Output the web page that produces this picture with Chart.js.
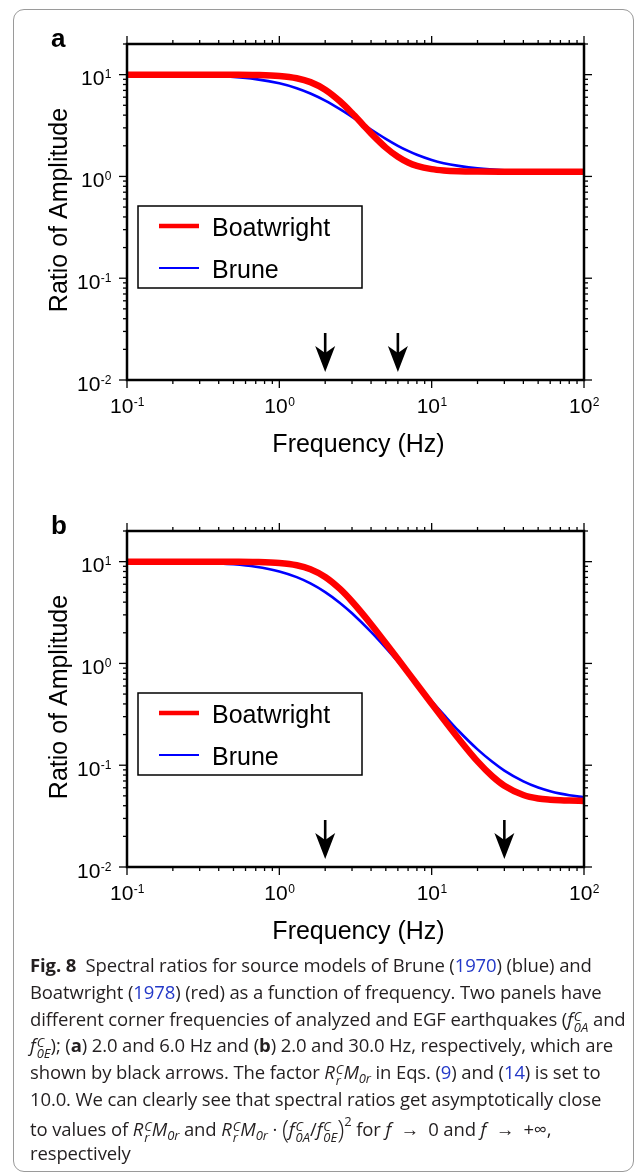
<!DOCTYPE html>
<html>
<head>
<meta charset="utf-8">
<script src="https://cdn.jsdelivr.net/npm/chart.js@4"></script>
<style>
  body { margin: 0; background: #fff; width: 637px; height: 1174px; position: relative; overflow: hidden; }
  #box { position: absolute; left: 13px; top: 9px; width: 619px; height: 1161px; border: 1px solid #9a9a9a; border-radius: 11px; }
  canvas { position: absolute; left: 0; }
  #chartA { top: 0; }
  #chartB { top: 487px; }
  #caption {
    position: absolute; left: 30px; top: 952px; white-space: nowrap;
    font-family: "Open Sans", sans-serif; font-size: 18.5px;
    letter-spacing: -0.12px; color: #231f20;
  }
  #caption .ln { height: 26.8px; line-height: 26.8px; }
  #caption a { color: #2338c8; text-decoration: none; }
  #caption b { font-weight: 700; }
  .ss { display: inline-block; vertical-align: -6px; font-size: 13px; line-height: 11px; margin-left: 1px; font-style: italic; letter-spacing: 0; }
  .ss span { display: block; }
  .sb { font-size: 13px; font-style: italic; position: relative; top: 4px; }
  .bigp { font-size: 26px; position: relative; top: 2px; font-weight: 300; }
  .sp2 { font-size: 13px; position: relative; top: -10px; }
</style>
</head>
<body>
<div id="box"></div>
<canvas id="chartA" width="637" height="470"></canvas>
<canvas id="chartB" width="637" height="470"></canvas>
<div id="caption">
<div class="ln"><b>Fig. 8</b>&nbsp; Spectral ratios for source models of Brune (<a>1970</a>) (blue) and</div>
<div class="ln">Boatwright (<a>1978</a>) (red) as a function of frequency. Two panels have</div>
<div class="ln">different corner frequencies of analyzed and EGF earthquakes (<i>f</i><span class="ss"><span>C</span><span>0A</span></span> and</div>
<div class="ln"><i>f</i><span class="ss"><span>C</span><span>0E</span></span>); (<b>a</b>) 2.0 and 6.0 Hz and (<b>b</b>) 2.0 and 30.0 Hz, respectively, which are</div>
<div class="ln">shown by black arrows. The factor <i>R</i><span class="ss"><span>C</span><span>r</span></span><i>M</i><span class="sb">0r</span> in Eqs. (<a>9</a>) and (<a>14</a>) is set to</div>
<div class="ln">10.0. We can clearly see that spectral ratios get asymptotically close</div>
<div class="ln">to values of <i>R</i><span class="ss"><span>C</span><span>r</span></span><i>M</i><span class="sb">0r</span> and <i>R</i><span class="ss"><span>C</span><span>r</span></span><i>M</i><span class="sb">0r</span> · <span class="bigp">(</span><i>f</i><span class="ss"><span>C</span><span>0A</span></span>/<i>f</i><span class="ss"><span>C</span><span>0E</span></span><span class="bigp">)</span><span class="sp2">2</span> for <i>f</i> &nbsp;→&nbsp; 0 and <i>f</i> &nbsp;→&nbsp; +∞,</div>
<div class="ln">respectively</div>
</div>
<script>
// Panel a: corner frequencies 2.0 and 6.0 Hz
const freqA = [0.1, 0.2, 0.3, 0.5, 0.7, 1, 1.3, 1.6, 2, 2.5, 3, 3.5, 4, 5, 6, 7, 8, 10, 12, 15, 20, 30, 50, 100];
const boatwrightA = [10.0, 10.0, 9.997, 9.98, 9.93, 9.71, 9.22, 8.44, 7.11, 5.47, 4.19, 3.28, 2.65, 1.92, 1.56, 1.37, 1.27, 1.18, 1.145, 1.125, 1.116, 1.112, 1.111, 1.111];
const bruneA = [9.98, 9.91, 9.80, 9.48, 9.03, 8.22, 7.36, 6.53, 5.56, 4.58, 3.85, 3.30, 2.89, 2.34, 2.0, 1.78, 1.63, 1.45, 1.35, 1.27, 1.2, 1.15, 1.125, 1.115];

// Panel b: corner frequencies 2.0 and 30.0 Hz
const freqB = [0.1, 0.2, 0.3, 0.5, 0.7, 1, 1.3, 1.6, 2, 2.5, 3, 4, 5, 6, 8, 10, 12, 15, 20, 25, 30, 40, 50, 60, 70, 80, 100];
const boatwrightB = [10.0, 10.0, 9.997, 9.98, 9.93, 9.70, 9.21, 8.42, 7.07, 5.39, 4.06, 2.43, 1.58, 1.105, 0.625, 0.402, 0.281, 0.183, 0.109, 0.0779, 0.0629, 0.051, 0.0471, 0.0458, 0.0452, 0.0449, 0.0446];
const bruneB = [9.975, 9.90, 9.78, 9.41, 8.91, 8.01, 7.04, 6.11, 5.02, 3.93, 3.11, 2.04, 1.42, 1.04, 0.63, 0.427, 0.314, 0.218, 0.143, 0.108, 0.0885, 0.0693, 0.0603, 0.0555, 0.0526, 0.0507, 0.0484];

// black arrows (corner frequencies)
const arrowsA = [2, 6];
const arrowsB = [2, 30];

const seriesNames = ["Boatwright", "Brune"];
const xTicks = [0.1, 1, 10, 100];
const xTickExp = ["-1", "0", "1", "2"];
const yTicks = [0.01, 0.1, 1, 10];
const yTickExp = ["-2", "-1", "0", "1"];

const FONT = "'Liberation Sans', Arial, sans-serif";

function minorTicks(majors, max) {
  const out = [];
  majors.forEach((d) => {
    for (let m = 2; m <= 9; m++) {
      if (m * d <= max) out.push(m * d);
    }
  });
  return out;
}

// "10" with a small exponent
function drawPow(ctx, exp, x, baseline, align) {
  ctx.font = "21px " + FONT;
  const wb = ctx.measureText("10").width;
  ctx.font = "12px " + FONT;
  const we = ctx.measureText(exp).width;
  const left = align === "center" ? x - (wb + we) / 2 : x - wb - we;
  ctx.textAlign = "left";
  ctx.textBaseline = "alphabetic";
  ctx.font = "21px " + FONT;
  ctx.fillText("10", left, baseline);
  ctx.font = "12px " + FONT;
  ctx.fillText(exp, left + wb + 0.5, baseline - 7);
}

// frame, ticks, labels, legend and arrows, GMT style
const logFrame = {
  id: "logFrame",
  afterDraw(chart, args, opts) {
    const { ctx, chartArea: a } = chart;
    const xs = chart.scales.x;
    const ys = chart.scales.y;
    ctx.save();
    ctx.fillStyle = "#000";
    ctx.strokeStyle = "#000";

    // ticks on all four sides, pointing out
    ctx.lineWidth = 1.3;
    const tick = (x1, y1, x2, y2) => {
      ctx.beginPath();
      ctx.moveTo(x1, y1);
      ctx.lineTo(x2, y2);
      ctx.stroke();
    };
    xTicks.forEach((v) => {
      const px = xs.getPixelForValue(v);
      tick(px, a.bottom, px, a.bottom + 8);
      tick(px, a.top, px, a.top - 8);
    });
    minorTicks(xTicks.slice(0, -1), xs.max).forEach((v) => {
      const px = xs.getPixelForValue(v);
      tick(px, a.bottom, px, a.bottom + 4);
      tick(px, a.top, px, a.top - 4);
    });
    yTicks.forEach((v) => {
      const py = ys.getPixelForValue(v);
      tick(a.left, py, a.left - 8, py);
      tick(a.right, py, a.right + 8, py);
    });
    minorTicks(yTicks, ys.max).forEach((v) => {
      const py = ys.getPixelForValue(v);
      tick(a.left, py, a.left - 4, py);
      tick(a.right, py, a.right + 4, py);
    });

    ctx.lineWidth = 2.5;
    ctx.strokeRect(a.left, a.top, a.right - a.left, a.bottom - a.top);

    // tick labels
    xTicks.forEach((v, i) => {
      drawPow(ctx, xTickExp[i], xs.getPixelForValue(v), a.bottom + 33, "center");
    });
    yTicks.forEach((v, i) => {
      drawPow(ctx, yTickExp[i], a.left - 16, ys.getPixelForValue(v) + 10.5, "right");
    });

    // axis titles
    ctx.font = "25px " + FONT;
    ctx.textAlign = "center";
    ctx.fillText("Frequency (Hz)", (a.left + a.right) / 2 + 3, a.bottom + 72);
    ctx.save();
    ctx.translate(67, (a.top + a.bottom) / 2 - 2);
    ctx.rotate(-Math.PI / 2);
    ctx.fillText("Ratio of Amplitude", 0, 0);
    ctx.restore();

    // panel letter
    ctx.font = "bold 26px " + FONT;
    ctx.textAlign = "left";
    ctx.fillText(opts.letter, 51, 47);

    // legend
    const lx = a.left + 11, ly = a.top + 162;
    ctx.lineWidth = 1.5;
    ctx.strokeRect(lx, ly, 224, 82);
    chart.data.datasets.forEach((ds, i) => {
      const yy = ly + 20 + i * 42;
      ctx.strokeStyle = ds.borderColor;
      ctx.lineWidth = i === 0 ? 4.5 : 2;
      tick(lx + 21, yy, lx + 61, yy);
      ctx.font = "25px " + FONT;
      ctx.fillText(ds.label, lx + 74, yy + 10);
    });

    // arrows at the corner frequencies
    ctx.fillStyle = "#000";
    ctx.strokeStyle = "#000";
    opts.arrows.forEach((f) => {
      const px = xs.getPixelForValue(f);
      const tip = a.bottom - 8;
      ctx.lineWidth = 2.6;
      tick(px, tip - 39, px, tip - 16);
      ctx.beginPath();
      ctx.moveTo(px, tip);
      ctx.lineTo(px - 10, tip - 26);
      ctx.lineTo(px, tip - 19);
      ctx.lineTo(px + 10, tip - 26);
      ctx.closePath();
      ctx.fill();
    });
    ctx.restore();
  },
};

function renderPanel(canvasId, freq, boatwright, brune, letter, arrows) {
  const ctx = document.getElementById(canvasId).getContext("2d");
  return new Chart(ctx, {
    type: "line",
    data: {
      datasets: [
        {
          label: seriesNames[0],
          data: freq.map((f, i) => ({ x: f, y: boatwright[i] })),
          borderColor: "#ff0000",
          borderWidth: 6.5,
          cubicInterpolationMode: "monotone",
        },
        {
          label: seriesNames[1],
          data: freq.map((f, i) => ({ x: f, y: brune[i] })),
          borderColor: "#0000ff",
          borderWidth: 2.6,
          cubicInterpolationMode: "monotone",
        },
      ],
    },
    options: {
      responsive: false,
      animation: false,
      layout: { padding: { left: 127, right: 53, top: 44, bottom: 90 } },
      elements: { point: { radius: 0 } },
      scales: {
        x: { type: "logarithmic", min: 0.1, max: 100, display: false },
        y: { type: "logarithmic", min: 0.01, max: 20, display: false },
      },
      plugins: {
        legend: { display: false },
        tooltip: { enabled: false },
        logFrame: { letter: letter, arrows: arrows },
      },
    },
    plugins: [logFrame],
  });
}

renderPanel("chartA", freqA, boatwrightA, bruneA, "a", arrowsA);
renderPanel("chartB", freqB, boatwrightB, bruneB, "b", arrowsB);
</script>
</body>
</html>
